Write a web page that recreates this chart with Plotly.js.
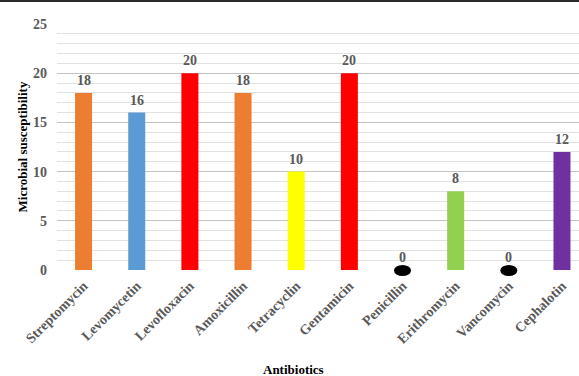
<!DOCTYPE html>
<html>
<head>
<meta charset="utf-8">
<script src="https://cdn.plot.ly/plotly-3.0.1.min.js"></script>
<style>
  html, body { margin: 0; padding: 0; background: #fff; }
  #wrap { position: relative; width: 579px; height: 376px; overflow: hidden; }
  #chart { position: absolute; left: 0; top: 0; width: 579px; height: 376px; }
  #topline { position: absolute; left: 0; top: 0; width: 579px; height: 2px; background: #2a2a2a; }
</style>
</head>
<body>
<div id="wrap">
  <div id="chart"></div>
  <div id="topline"></div>
</div>
<script>
const categories = ["Streptomycin", "Levomycetin", "Levofloxacin", "Amoxicillin", "Tetracyclin",
                    "Gentamicin", "Penicillin", "Erithromycin", "Vancomycin", "Cephalotin"];
const values = [18, 16, 20, 18, 10, 20, 0, 8, 0, 12];
const barColors = ["#ED7D31", "#5B9BD5", "#FF0000", "#ED7D31", "#FFFF00",
                   "#FF0000", "#000000", "#92D050", "#000000", "#7030A0"];
const yTicks = [0, 5, 10, 15, 20, 25];

const serif = "Liberation Serif, Times New Roman, serif";
const tickFont = { family: serif, size: 14, color: "#595959", weight: "bold" };

const trace = {
  type: "bar",
  x: categories.map((c, i) => i),
  y: values,
  marker: { color: barColors, line: { width: 0 } },
  width: 0.32,
  hoverinfo: "skip"
};

const shapes = [];
const annotations = [];
values.forEach((v, i) => {
  annotations.push({
    x: i, y: v, xref: "x", yref: "y", text: String(v),
    showarrow: false, xanchor: "center", yanchor: "middle", yshift: 12.5,
    font: tickFont
  });
  if (v === 0) {
    shapes.push({
      type: "circle", xref: "x", yref: "paper",
      xsizemode: "pixel", ysizemode: "pixel",
      xanchor: i, yanchor: 0,
      x0: -8.5, x1: 8.5, y0: -6, y1: 5,
      fillcolor: "#000000", line: { width: 0 }, layer: "above"
    });
  }
});
annotations.push({
  text: "Antibiotics", xref: "paper", yref: "paper",
  x: (293 - 57) / 522, y: 0, yshift: -99, xanchor: "center", yanchor: "middle",
  showarrow: false, font: { family: serif, size: 13, color: "#000000", weight: "bold" }
});

const layout = {
  width: 579, height: 376,
  margin: { l: 57, r: 0, t: 24, b: 106 },
  paper_bgcolor: "#ffffff", plot_bgcolor: "#ffffff",
  showlegend: false,
  font: { family: serif },
  xaxis: {
    type: "linear",
    range: [-0.5, 9.32],
    tickmode: "array",
    tickvals: categories.map((c, i) => i),
    ticktext: categories,
    tickangle: -45,
    tickfont: tickFont,
    showgrid: false, zeroline: false, showline: false,
    ticks: "", ticklabelstandoff: 4
  },
  yaxis: {
    range: [0, 25],
    tickvals: yTicks,
    tickfont: tickFont,
    showgrid: true, gridcolor: "#c4c4c4", gridwidth: 1,
    minor: { dtick: 1, showgrid: true, gridcolor: "#e2e2e2", gridwidth: 1, ticks: "" },
    zeroline: false, showline: false, ticks: "",
    ticklabelstandoff: 9,
    title: { text: "Microbial susceptibility", font: { family: serif, size: 13, color: "#000000", weight: "bold" }, standoff: 2 }
  },
  shapes: shapes,
  annotations: annotations
};

Plotly.newPlot("chart", [trace], layout, { staticPlot: true, displayModeBar: false });
</script>
</body>
</html>
